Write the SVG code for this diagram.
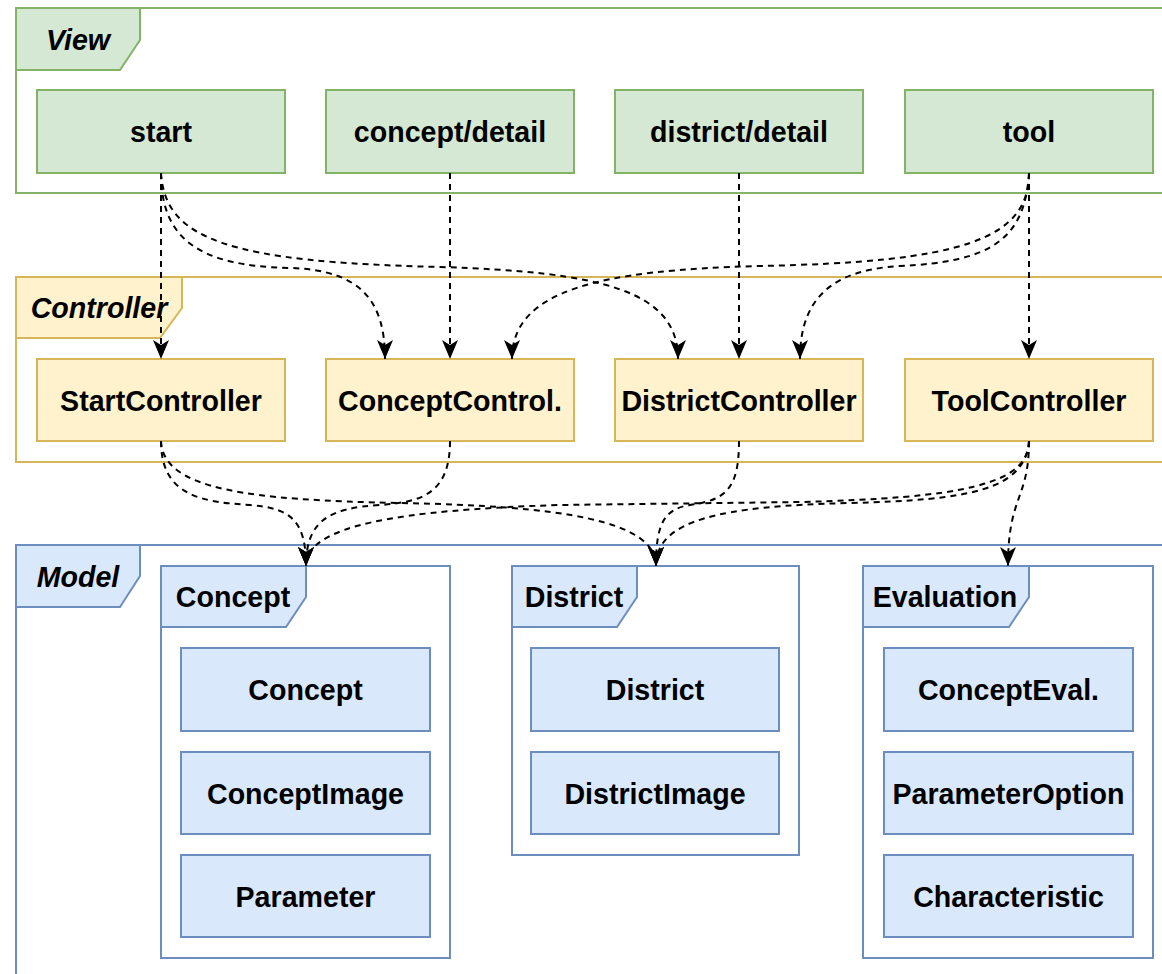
<svg xmlns="http://www.w3.org/2000/svg" width="1162" height="974" viewBox="0 0 1162 974">
<style>
.t{font-family:"Liberation Sans",Arial,sans-serif;font-weight:bold;font-size:28.6px;fill:#000;text-anchor:middle}
.it{font-style:italic}
.vf{fill:none;stroke:#82b366;stroke-width:2}
.vt{fill:#d5e8d4;stroke:#82b366;stroke-width:2}
.cf{fill:none;stroke:#d6b656;stroke-width:2}
.ct{fill:#fff2cc;stroke:#d6b656;stroke-width:2}
.mf{fill:none;stroke:#6c8ebf;stroke-width:2}
.mt{fill:#dae8fc;stroke:#6c8ebf;stroke-width:2}
.e{fill:none;stroke:#000;stroke-width:2;stroke-dasharray:6 5;marker-end:url(#arrow)}
</style>
<defs>
<marker id="arrow" markerUnits="userSpaceOnUse" markerWidth="20" markerHeight="20" viewBox="0 0 20 20" refX="19" refY="10" orient="auto">
<path d="M0,2 L19,10 L0,18 L5,10 Z" fill="#000" stroke="none"/>
</marker>
</defs>
<rect width="1162" height="974" fill="#fff"/>

<g id="view-frame">
<rect class="vf" x="16" y="8" width="1200" height="185"/>
<polygon class="vt" points="16,8 140,8 140,40 120,70 16,70"/>
<text class="t it" x="78" y="50">View</text>
</g>
<g id="controller-frame">
<rect class="cf" x="16" y="277" width="1200" height="185"/>
<polygon class="ct" points="16,277 182,277 182,308 160,338 16,338"/>
<text class="t it" x="99" y="318">Controller</text>
</g>
<g id="model-frame">
<rect class="mf" x="16" y="545" width="1200" height="500"/>
<polygon class="mt" points="16,545 140,545 140,576 120,607 16,607"/>
<text class="t it" x="78" y="587">Model</text>
</g>

<g id="v-start"><rect class="vt" x="37" y="90" width="248" height="83"/><text class="t" x="161" y="142">start</text></g>
<g id="v-concept"><rect class="vt" x="326" y="90" width="248" height="83"/><text class="t" x="450" y="142">concept/detail</text></g>
<g id="v-district"><rect class="vt" x="615" y="90" width="248" height="83"/><text class="t" x="739" y="142">district/detail</text></g>
<g id="v-tool"><rect class="vt" x="905" y="90" width="248" height="83"/><text class="t" x="1029" y="142">tool</text></g>

<g id="c-start"><rect class="ct" x="37" y="359" width="248" height="82"/><text class="t" x="161" y="411">StartController</text></g>
<g id="c-concept"><rect class="ct" x="326" y="359" width="248" height="82"/><text class="t" x="450" y="411">ConceptControl.</text></g>
<g id="c-district"><rect class="ct" x="615" y="359" width="248" height="82"/><text class="t" x="739" y="411">DistrictController</text></g>
<g id="c-tool"><rect class="ct" x="905" y="359" width="248" height="82"/><text class="t" x="1029" y="411">ToolController</text></g>

<g id="p-concept">
<rect class="mf" x="161" y="566" width="289" height="392"/>
<polygon class="mt" points="161,566 306,566 306,597 286,627 161,627"/>
<text class="t" x="233" y="607">Concept</text>
</g>
<g id="m-concept"><rect class="mt" x="181" y="648" width="249" height="83"/><text class="t" x="305.5" y="700">Concept</text></g>
<g id="m-conceptimage"><rect class="mt" x="181" y="752" width="249" height="82"/><text class="t" x="305.5" y="803.5">ConceptImage</text></g>
<g id="m-parameter"><rect class="mt" x="181" y="855" width="249" height="82"/><text class="t" x="305.5" y="906.5">Parameter</text></g>

<g id="p-district">
<rect class="mf" x="512" y="566" width="287" height="289"/>
<polygon class="mt" points="512,566 637,566 637,597 617,627 512,627"/>
<text class="t" x="574" y="607">District</text>
</g>
<g id="m-district"><rect class="mt" x="531" y="648" width="248" height="83"/><text class="t" x="655" y="700">District</text></g>
<g id="m-districtimage"><rect class="mt" x="531" y="752" width="248" height="82"/><text class="t" x="655" y="803.5">DistrictImage</text></g>

<g id="p-evaluation">
<rect class="mf" x="863" y="566" width="290" height="392"/>
<polygon class="mt" points="863,566 1029,566 1029,597 1009,627 863,627"/>
<text class="t" x="945" y="607">Evaluation</text>
</g>
<g id="m-concepteval"><rect class="mt" x="884" y="648" width="249" height="83"/><text class="t" x="1008.5" y="700">ConceptEval.</text></g>
<g id="m-parameteroption"><rect class="mt" x="884" y="752" width="249" height="82"/><text class="t" x="1008.5" y="803.5">ParameterOption</text></g>
<g id="m-characteristic"><rect class="mt" x="884" y="855" width="249" height="82"/><text class="t" x="1008.5" y="906.5">Characteristic</text></g>

<g id="connectors">
<path class="e" d="M161,173 L161,359"/>
<path class="e" d="M450,173 L450,359"/>
<path class="e" d="M739,173 L739,359"/>
<path class="e" d="M1029,173 L1029,359"/>
<path class="e" d="M161,173 C161,240 200,266 290,268 C360,270 385,300 385,359"/>
<path class="e" d="M161,173 C165,240 230,262 440,267 C600,272 678,290 678,359"/>
<path class="e" d="M1029,173 C1029,240 960,262 760,266 C600,270 512,290 512,359"/>
<path class="e" d="M1029,173 C1025,240 990,262 900,266 C830,270 800,300 800,359"/>

<path class="e" d="M161,441 C161,495 200,502 250,505 C290,508 306,520 306,566"/>
<path class="e" d="M161,441 C163,490 250,500 400,503 C560,506 656,520 656,566"/>
<path class="e" d="M450,441 C450,495 420,502 380,505 C330,508 306,520 306,566"/>
<path class="e" d="M739,441 C739,490 725,500 690,505 C665,509 656,522 656,566"/>
<path class="e" d="M1029,441 C1029,485 960,498 800,502 L560,505 C400,510 306,525 306,566"/>
<path class="e" d="M1029,441 C1025,490 970,500 850,503 C720,506 656,520 656,566"/>
<path class="e" d="M1029,441 C1029,500 1008,495 1008,566"/>
</g>
</svg>
